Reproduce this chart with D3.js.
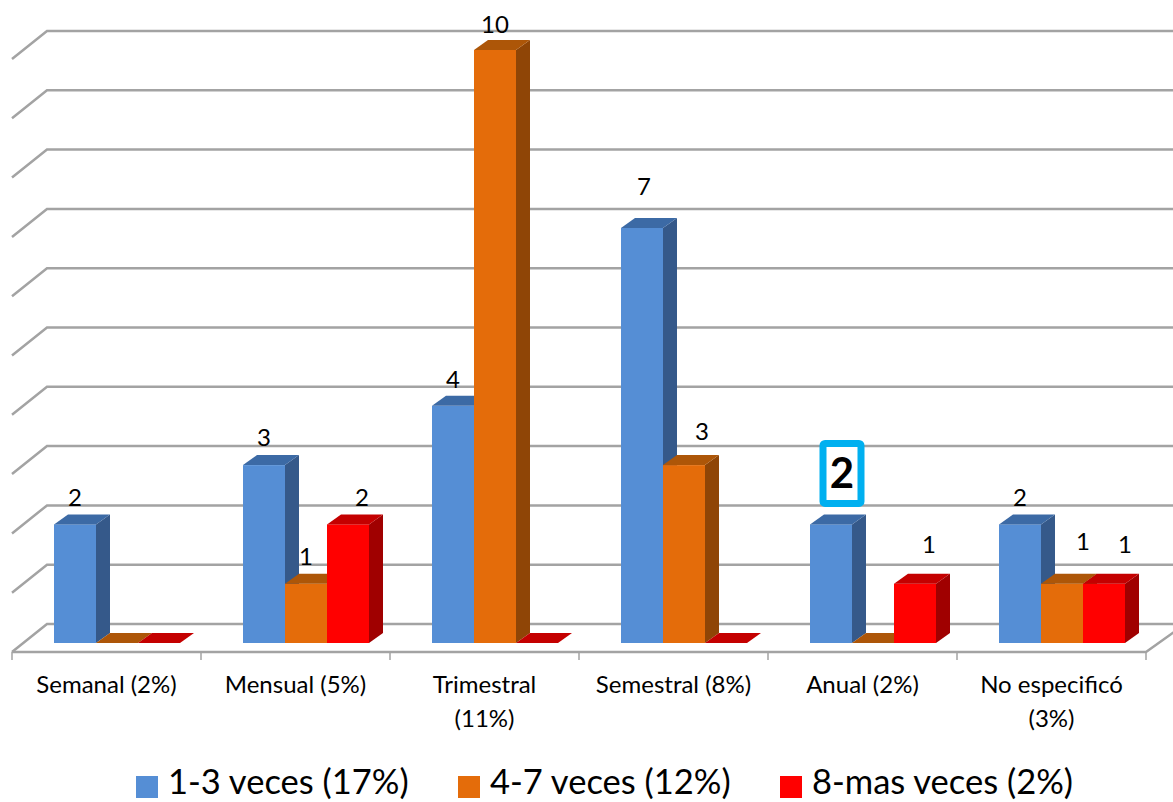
<!DOCTYPE html>
<html>
<head>
<meta charset="utf-8">
<script src="https://cdn.jsdelivr.net/npm/d3@7"></script>
<style>
    html, body { margin: 0; padding: 0; background: #fff; }
    svg { display: block; }
    text { font-family: Lato, "Open Sans", sans-serif; fill: #000; }
</style>
</head>
<body>
<svg id="chart" width="1173" height="802"></svg>
<script>
// Chart data
const categories = [
    ['Semanal (2%)'],
    ['Mensual (5%)'],
    ['Trimestral', '(11%)'],
    ['Semestral (8%)'],
    ['Anual (2%)'],
    ['No especificó', '(3%)']
];
const seriesNames = ['1-3 veces (17%)', '4-7 veces (12%)', '8-mas veces (2%)'];
const lowValues = [2, 3, 4, 7, 2, 2];
const midValues = [0, 1, 10, 3, 0, 1];
const highValues = [0, 2, 0, 0, 1, 1];
const gridValues = [0, 1, 2, 3, 4, 5, 6, 7, 8, 9, 10];

// Colours per series: front, side, top
const palette = [
    { front: '#558ed5', side: '#35598a', top: '#3c6aa5' },
    { front: '#e46c0a', side: '#8f4506', top: '#ad5608' },
    { front: '#ff0000', side: '#a00000', top: '#c40000' }
];

const svg = d3.select('#chart');
const allSeries = [lowValues, midValues, highValues];

const x = d3.scaleBand().domain(d3.range(categories.length)).range([12, 1146]);
const barX = d3.scaleBand().domain(d3.range(allSeries.length)).range([42, 168]);
const y = d3.scaleLinear().domain([0, 10]).range([643, 50]);

// Bar depth and wall depth of the fake 3D
const barDx = 14, barDy = 10;
const wallDx = 35, wallUp = 19, wallDown = 9;

// Walls
const grid = svg.append('g')
    .attr('fill', 'none')
    .attr('stroke', '#a3a3a3')
    .attr('stroke-width', 2.5);

gridValues.forEach(v => {
    const front = y(v) + wallDown;
    const back = y(v) - wallUp;
    grid.append('path')
        .attr('d', `M${x.range()[0]},${front}L${x.range()[0] + wallDx},${back}H1173`);
});

// Floor edge and ticks
grid.append('path')
    .attr('d', `M${x.range()[0]},${y(0) + wallDown}H${x.range()[1]}L${x.range()[1] + wallDx},${y(0) - wallUp + 3}`);

d3.range(categories.length + 1).forEach(i => {
    const tx = x.range()[0] + i * x.bandwidth();
    grid.append('line')
        .attr('x1', tx).attr('x2', tx)
        .attr('y1', y(0) + wallDown).attr('y2', y(0) + wallDown + 8)
        .attr('stroke-width', 1.5);
});

// Bars, left to right so the next front covers the previous side
categories.forEach((cat, c) => {
    allSeries.forEach((values, s) => {
        const left = x(c) + barX(s);
        const right = left + barX.bandwidth();
        const top = y(values[c]);
        const base = y(0);
        const g = svg.append('g');

        if (values[c] > 0) {
            g.append('path')
                .attr('fill', palette[s].side)
                .attr('d', `M${right},${top}L${right + barDx},${top - barDy}V${base - barDy}L${right},${base}Z`);
            g.append('rect')
                .attr('x', left).attr('y', top)
                .attr('width', barX.bandwidth()).attr('height', base - top)
                .attr('fill', palette[s].front);
        }
        g.append('path')
            .attr('fill', palette[s].top)
            .attr('d', `M${left},${top}L${left + barDx},${top - barDy}H${right + barDx}L${right},${top}Z`);
    });
});

// Data labels, hand placed in the original: [series, category, dx, dy above bar]
const labelNudges = [
    [0, 0, 0, 18], [0, 1, 0, 19], [1, 1, 0, 19], [2, 1, 14, 18],
    [0, 2, 0, 18], [1, 2, 0, 17], [0, 3, 2, 33], [1, 3, 18, 25],
    [2, 4, 14, 31], [0, 5, 0, 18], [1, 5, 21, 34], [2, 5, 21, 31]
];

labelNudges.forEach(([s, c, dx, dy]) => {
    svg.append('text')
        .attr('x', x(c) + barX(s) + barX.bandwidth() / 2 + dx)
        .attr('y', y(allSeries[s][c]) - dy)
        .attr('text-anchor', 'middle')
        .attr('font-size', 24)
        .text(allSeries[s][c]);
});

// Highlighted label on Anual
const boxCx = x(4) + barX(0) + barX.bandwidth() / 2 + 11;
svg.append('rect')
    .attr('x', boxCx - 19).attr('y', y(lowValues[4]) - 81)
    .attr('width', 38).attr('height', 60)
    .attr('rx', 2)
    .attr('fill', '#fff')
    .attr('stroke', '#00b0f0')
    .attr('stroke-width', 7);
svg.append('text')
    .attr('x', boxCx)
    .attr('y', y(lowValues[4]) - 36)
    .attr('text-anchor', 'middle')
    .attr('font-size', 42)
    .attr('font-weight', 700)
    .text(lowValues[4]);

// Category labels
categories.forEach((lines, c) => {
    lines.forEach((line, i) => {
        svg.append('text')
            .attr('x', x(c) + x.bandwidth() / 2)
            .attr('y', 693 + i * 34)
            .attr('text-anchor', 'middle')
            .attr('font-size', 24)
            .text(line);
    });
});

// Legend
const legendX = d3.scalePoint().domain(d3.range(seriesNames.length)).range([136, 780]);
seriesNames.forEach((name, s) => {
    svg.append('rect')
        .attr('x', legendX(s)).attr('y', 776)
        .attr('width', 22).attr('height', 22)
        .attr('fill', palette[s].front);
    svg.append('text')
        .attr('x', legendX(s) + 32)
        .attr('y', 794)
        .attr('font-size', 34.5)
        .text(name);
});
</script>
</body>
</html>
